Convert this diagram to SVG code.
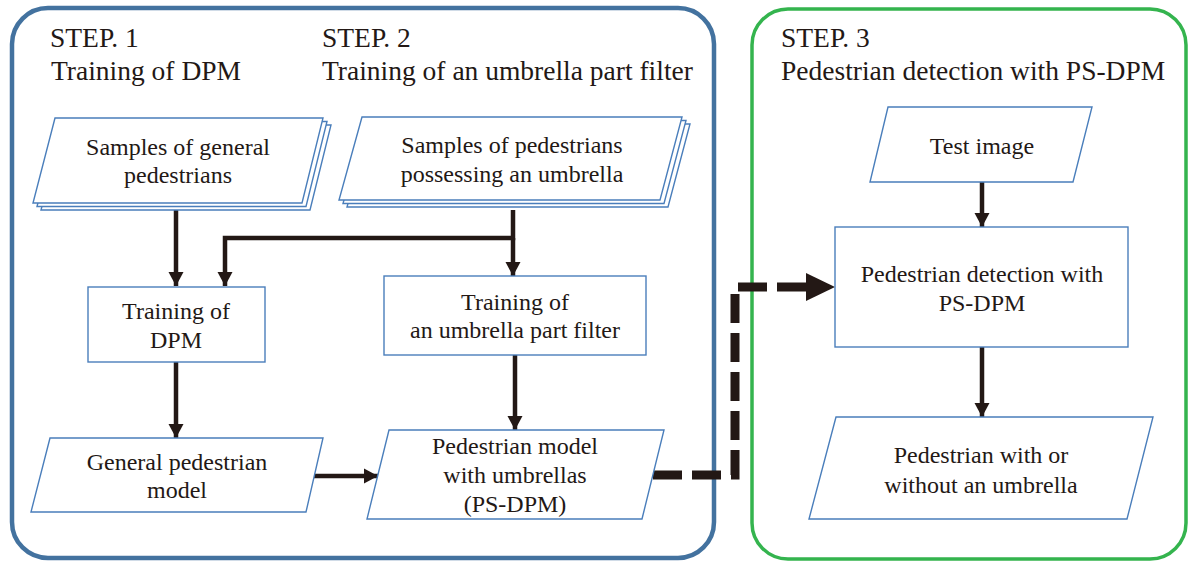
<svg xmlns="http://www.w3.org/2000/svg" width="1190" height="563" viewBox="0 0 1190 563" font-family="'Liberation Serif', 'Times New Roman', Times, serif">
<defs>
<style>
text{font-family:'Liberation Serif','Times New Roman',Times,serif;fill:#231815}
.h{font-size:27.5px}
.t{font-size:24px;text-anchor:middle}
.n{fill:#fff;stroke:#4a7ebb;stroke-width:1.4}
.c{fill:none;stroke:#231815;stroke-width:4.5}
.d{fill:none;stroke:#231815;stroke-width:9;stroke-dasharray:29 10}
</style>
<marker id="ah" markerUnits="userSpaceOnUse" markerWidth="15" markerHeight="16" refX="14" refY="8" orient="auto">
<path d="M0,0.5 L14,8 L0,15.5 z" fill="#231815"/>
</marker>
</defs>
<rect width="1190" height="563" fill="#fff"/>

<g id="step12">
<rect x="12" y="8" width="702" height="550" rx="36" fill="none" stroke="#43729f" stroke-width="4.5"/>
<text class="h" x="50" y="47">STEP. 1</text>
<text class="h" x="51" y="80">Training of DPM</text>
<text class="h" x="322" y="47">STEP. 2</text>
<text class="h" x="322" y="80">Training of an umbrella part filter</text>
</g>
<g id="step3">
<rect x="752" y="9" width="434" height="550" rx="36" fill="none" stroke="#34b44e" stroke-width="3.5"/>
<text class="h" x="781" y="47">STEP. 3</text>
<text class="h" x="781" y="80">Pedestrian detection with PS-DPM</text>
</g>

<g id="connectors">
<path class="c" d="M176,210 V286" marker-end="url(#ah)"/>
<path class="c" d="M513,210 V238 H225 V286" marker-end="url(#ah)"/>
<path class="c" d="M513,238 V276" marker-end="url(#ah)"/>
<path class="c" d="M176,362 V438" marker-end="url(#ah)"/>
<path class="c" d="M515,355 V430" marker-end="url(#ah)"/>
<path class="c" d="M314,476 H378" marker-end="url(#ah)"/>
<path class="c" d="M982,182 V227" marker-end="url(#ah)"/>
<path class="c" d="M982,347 V417" marker-end="url(#ah)"/>
<path class="d" d="M653,475 H735 V287 H808"/>
<path d="M806,273 L835,287 L806,301 z" fill="#231815"/>
</g>

<g id="samples-general">
<polygon class="n" points="63,125 331,125 310,210 41,210"/>
<polygon class="n" points="59,121.5 327,121.5 306,206.5 37,206.5"/>
<polygon class="n" points="55,118 323,118 302,203 33,203"/>
<text class="t" x="178" y="155">Samples of general</text>
<text class="t" x="178" y="183">pedestrians</text>
</g>

<g id="samples-umbrella">
<polygon class="n" points="370,124 690,124 668,207 347,207"/>
<polygon class="n" points="366,120.5 686,120.5 664,203.5 343,203.5"/>
<polygon class="n" points="362,117 682,117 660,200 339,200"/>
<text class="t" x="512" y="153">Samples of pedestrians</text>
<text class="t" x="512" y="182">possessing an umbrella</text>
</g>

<g id="training-dpm">
<rect class="n" x="88" y="287" width="177" height="75"/>
<text class="t" x="176" y="319">Training of</text>
<text class="t" x="176" y="348">DPM</text>
</g>

<g id="training-umbrella">
<rect class="n" x="384" y="276" width="262" height="79"/>
<text class="t" x="515" y="310">Training of</text>
<text class="t" x="515" y="338">an umbrella part filter</text>
</g>

<g id="general-model">
<polygon class="n" points="50,438 323,438 306,512 31,512"/>
<text class="t" x="177" y="470">General pedestrian</text>
<text class="t" x="177" y="498">model</text>
</g>

<g id="ps-dpm-model">
<polygon class="n" points="389,430 664,430 642,519 367,519"/>
<text class="t" x="515" y="454">Pedestrian model</text>
<text class="t" x="515" y="483">with umbrellas</text>
<text class="t" x="515" y="512">(PS-DPM)</text>
</g>

<g id="test-image">
<polygon class="n" points="888,107 1092,107 1073,182 870,182"/>
<text class="t" x="982" y="154">Test image</text>
</g>

<g id="detection">
<rect class="n" x="835" y="227" width="293" height="120"/>
<text class="t" x="982" y="282">Pedestrian detection with</text>
<text class="t" x="982" y="311">PS-DPM</text>
</g>

<g id="result">
<polygon class="n" points="836,417 1153,417 1127,519 809,519"/>
<text class="t" x="981" y="463">Pedestrian with or</text>
<text class="t" x="981" y="493">without an umbrella</text>
</g>
</svg>
